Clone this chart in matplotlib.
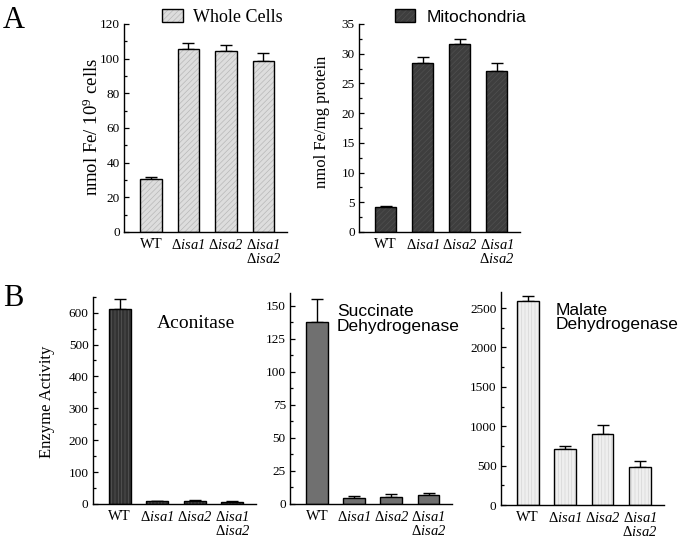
import matplotlib
matplotlib.use("Agg")
import matplotlib.pyplot as plt
from matplotlib.ticker import MultipleLocator
from matplotlib.legend_handler import HandlerTuple

plt.rcParams['font.family'] = ['Liberation Serif', 'DejaVu Serif']
plt.rcParams['mathtext.fontset'] = 'custom'
plt.rcParams['mathtext.rm'] = 'Liberation Serif'
plt.rcParams['mathtext.it'] = 'Liberation Serif:italic'
plt.rcParams['mathtext.sf'] = 'Liberation Serif:italic'
plt.rcParams['mathtext.bf'] = 'Liberation Serif:bold'
plt.rcParams['hatch.linewidth'] = 0.5

strains = ['WT', r'$\Delta\mathsf{isa1}$', r'$\Delta\mathsf{isa2}$',
           r'$\Delta\mathsf{isa1}$' + '\n' + r'$\Delta\mathsf{isa2}$']

whole_cells = [30.5, 105.4, 104.6, 98.5]
whole_cells_err = [1.4, 3.8, 3.1, 5.0]
mito = [4.15, 28.4, 31.7, 27.1]
mito_err = [0.3, 1.0, 0.7, 1.3]
aconitase = [610, 8, 8, 7]
aconitase_err = [33, 2, 5, 3]
sdh = [137.9, 4.8, 5.5, 6.6]
sdh_err = [17.4, 1.2, 2.3, 1.6]
mdh = [2585, 711, 897, 478]
mdh_err = [67, 41, 114, 80]

fig = plt.figure(figsize=(6.84, 5.44), dpi=100)

def fpos(x0, x1, ytop, ybot):
    W, H = 684.0, 544.0
    return [x0 / W, 1 - ybot / H, (x1 - x0) / W, (ybot - ytop) / H]

def panel(rect, vals, errs, face, hcol, hatch, ylim, major, minor):
    ax = fig.add_axes(rect)
    x = list(range(len(vals)))
    b1 = ax.bar(x, vals, width=0.58, color=face, edgecolor=hcol, hatch=hatch,
                linewidth=0, zorder=2)
    b2 = ax.bar(x, vals, width=0.58, facecolor='none', edgecolor='black',
                linewidth=1.0, zorder=3)
    ax.errorbar(x, vals, yerr=[[0] * len(errs), errs], fmt='none',
                ecolor='black', elinewidth=1.0, capsize=4, capthick=1.0, zorder=1)
    ax.set_xlim(-0.72, 3.63)
    ax.set_ylim(*ylim)
    ax.yaxis.set_major_locator(MultipleLocator(major))
    ax.yaxis.set_minor_locator(MultipleLocator(minor))
    ax.set_xticks(x)
    ax.set_xticklabels(strains, fontsize=10.5, linespacing=1.0)
    ax.tick_params(axis='x', length=0, pad=4)
    ax.tick_params(axis='y', which='major', direction='in', length=3.5,
                   width=0.9, labelsize=9.5, pad=3)
    ax.tick_params(axis='y', which='minor', direction='in', length=2.5, width=0.9)
    for s in ['top', 'right']:
        ax.spines[s].set_visible(False)
    for s in ['left', 'bottom']:
        ax.spines[s].set_linewidth(1.0)
    return ax, (b1[0], b2[0])

# Panel A
axA1, hA1 = panel(fpos(124, 287, 24, 232), whole_cells, whole_cells_err,
                  '#dddddd', '#b8b8b8', '//////', (0, 120), 20, 10)
axA2, hA2 = panel(fpos(359, 520, 24, 232), mito, mito_err,
                  '#3e3e3e', '#505050', '//////', (0, 35), 5, 2.5)

fig.text(92 / 684, 1 - 127 / 544, r'nmol Fe/ 10$^{9}$ cells', rotation=90,
         ha='center', va='center', fontsize=13.5)
fig.text(322 / 684, 1 - 122 / 544, 'nmol Fe/mg protein', rotation=90,
         ha='center', va='center', fontsize=12)

hm = {tuple: HandlerTuple(ndivide=1, pad=0)}
fig.legend([hA1], ['Whole Cells'], handler_map=hm,
           loc='center left', bbox_to_anchor=(162 / 684, 1 - 17 / 544), frameon=False,
           fontsize=13, handlelength=1.15, handleheight=0.7, handletextpad=0.55,
           borderpad=0, borderaxespad=0)
fig.legend([hA2], ['Mitochondria'], handler_map=hm,
           loc='center left', bbox_to_anchor=(395 / 684, 1 - 17 / 544), frameon=False,
           prop={'family': 'Liberation Sans', 'size': 12.5},
           handlelength=1.15, handleheight=0.7, handletextpad=0.65,
           borderpad=0, borderaxespad=0)

fig.text(3 / 684, 1 - 28 / 544, 'A', fontsize=22, ha='left', va='baseline')
fig.text(3 / 684, 1 - 306 / 544, 'B', fontsize=22, ha='left', va='baseline')

# Panel B
axB1, _ = panel(fpos(92.7, 256, 296.7, 504), aconitase, aconitase_err,
                '#333333', '#5a5a5a', '|||||', (0, 650), 100, 50)
axB2, _ = panel(fpos(290, 452, 292.5, 504), sdh, sdh_err,
                '#707070', '#707070', None, (0, 160), 25, 12.5)
axB3, _ = panel(fpos(500.7, 663.7, 292.3, 505), mdh, mdh_err,
                '#efefef', '#d6d6d6', '|||||', (0, 2700), 500, 250)

fig.text(46.7 / 684, 1 - 401.5 / 544, 'Enzyme Activity', rotation=90,
         ha='center', va='center', fontsize=12)

axB1.text(0.394, 0.849, 'Aconitase', transform=axB1.transAxes, fontsize=14,
          ha='left', va='baseline')
axB2.text(0.29, 0.945, 'Succinate\nDehydrogenase', transform=axB2.transAxes,
          fontsize=12.5, ha='left', va='top', linespacing=0.95,
          family='Liberation Sans')
axB3.text(0.34, 0.95, 'Malate\nDehydrogenase', transform=axB3.transAxes,
          fontsize=12.5, ha='left', va='top', linespacing=0.95,
          family='Liberation Sans')

fig.savefig('out.png', dpi=100)
